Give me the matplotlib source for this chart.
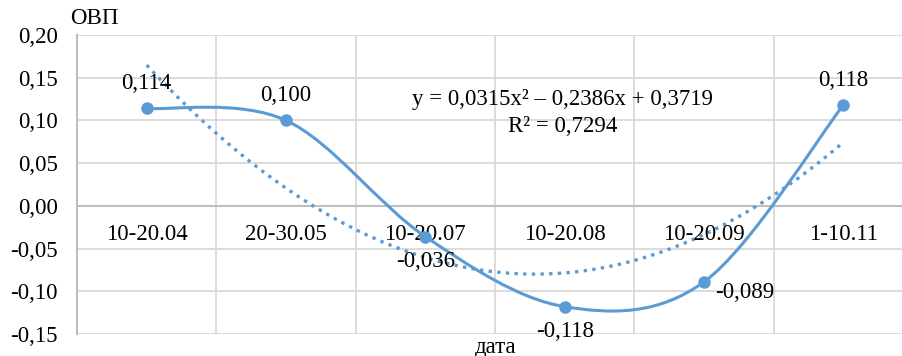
import numpy as np
import matplotlib.pyplot as plt
from matplotlib.path import Path
from matplotlib.patches import PathPatch

plt.rcParams['font.family'] = ['Liberation Serif', 'DejaVu Serif']

categories = ["10-20.04", "20-30.05", "10-20.07", "10-20.08", "10-20.09", "1-10.11"]
ovp = [0.114, 0.100, -0.036, -0.118, -0.089, 0.118]
label_pos = ["above", "above", "below", "below", "right", "above"]
y_ticks = [-0.15, -0.10, -0.05, 0.00, 0.05, 0.10, 0.15, 0.20]
# trendline as shown on the chart (excel fitted on unrounded values)
trend_coef = [0.0315, -0.2386, 0.3719]
trend_r2 = 0.7294

blue = "#5B9BD5"
grid = "#D9D9D9"
fs = 16.5


def smooth_path(xs, ys):
	# bezier smoothing like excel's "smoothed line"
	pts = np.column_stack([xs, ys])
	n = len(pts)
	verts = [pts[0]]
	codes = [Path.MOVETO]
	for i in range(n - 1):
		p0 = pts[i - 1] if i > 0 else pts[i]
		p1 = pts[i]
		p2 = pts[i + 1]
		p3 = pts[i + 2] if i + 2 < n else pts[i + 1]
		c1 = p1 + (p2 - p0) / 6
		c2 = p2 - (p3 - p1) / 6
		verts += [c1, c2, p2]
		codes += [Path.CURVE4] * 3
	return Path(verts, codes)


fig = plt.figure(figsize=(9.02, 3.56), dpi=100)
ax = fig.add_axes([77 / 902, 1 - 334 / 356, 836 / 902, 299 / 356])

x = np.arange(1, len(categories) + 1)
ax.set_xlim(0.5, len(categories) + 0.5)
ax.set_ylim(-0.15, 0.20)

# grid
for yt in y_ticks:
	ax.axhline(yt, color=grid, lw=1.3, zorder=0)
for xb in np.arange(1.5, len(categories) + 0.6, 1):
	ax.axvline(xb, color=grid, lw=1.3, zorder=0)
ax.axhline(0, color="#BFBFBF", lw=1.5, zorder=1)

for s in ["top", "right", "bottom"]:
	ax.spines[s].set_visible(False)
ax.spines["left"].set_color("#BFBFBF")
ax.spines["left"].set_linewidth(1.5)

ax.set_yticks(y_ticks)
ax.set_yticklabels([f"{v:.2f}".replace(".", ",") for v in y_ticks], fontsize=fs)
ax.tick_params(axis="y", length=0, pad=14)
ax.set_xticks([])

for xi, c in zip(x, categories):
	ax.text(xi, -0.033, c, ha="center", va="center", fontsize=fs)

# series
patch = PathPatch(smooth_path(x, ovp), fill=False, edgecolor=blue, lw=2.2, zorder=3)
ax.add_patch(patch)
ax.plot(x, ovp, "o", color=blue, ms=8, zorder=4)

for xi, v, pos in zip(x, ovp, label_pos):
	t = f"{v:.3f}".replace(".", ",")
	if pos == "above":
		ax.text(xi, v + 0.029, t, ha="center", va="center", fontsize=fs)
	elif pos == "below":
		ax.text(xi, v - 0.029, t, ha="center", va="center", fontsize=fs)
	else:
		ax.text(xi + 0.08, v - 0.013, t, ha="left", va="center", fontsize=fs)

# polynomial trend
xt = np.linspace(1, len(categories), 200)
ax.plot(xt, np.polyval(trend_coef, xt), color=blue, lw=2.4, zorder=2,
		linestyle=(0, (1, 1.6)))
eq = "y = {:.4f}x² – {:.4f}x + {:.4f}".format(trend_coef[0], -trend_coef[1], trend_coef[2]).replace(".", ",")
ax.text(563 / 902, 1 - 100 / 356, eq, transform=fig.transFigure, ha="center", va="center", fontsize=fs)
ax.text(563 / 902, 1 - 127 / 356, "R² = {:.4f}".format(trend_r2).replace(".", ","),
		transform=fig.transFigure, ha="center", va="center", fontsize=fs)

fig.text(94 / 902, 1 - 19 / 356, "ОВП", ha="center", va="center", fontsize=fs)
fig.text(496 / 902, 1 - 347 / 356, "дата", ha="center", va="center", fontsize=fs)

fig.savefig("out.png", dpi=100)
